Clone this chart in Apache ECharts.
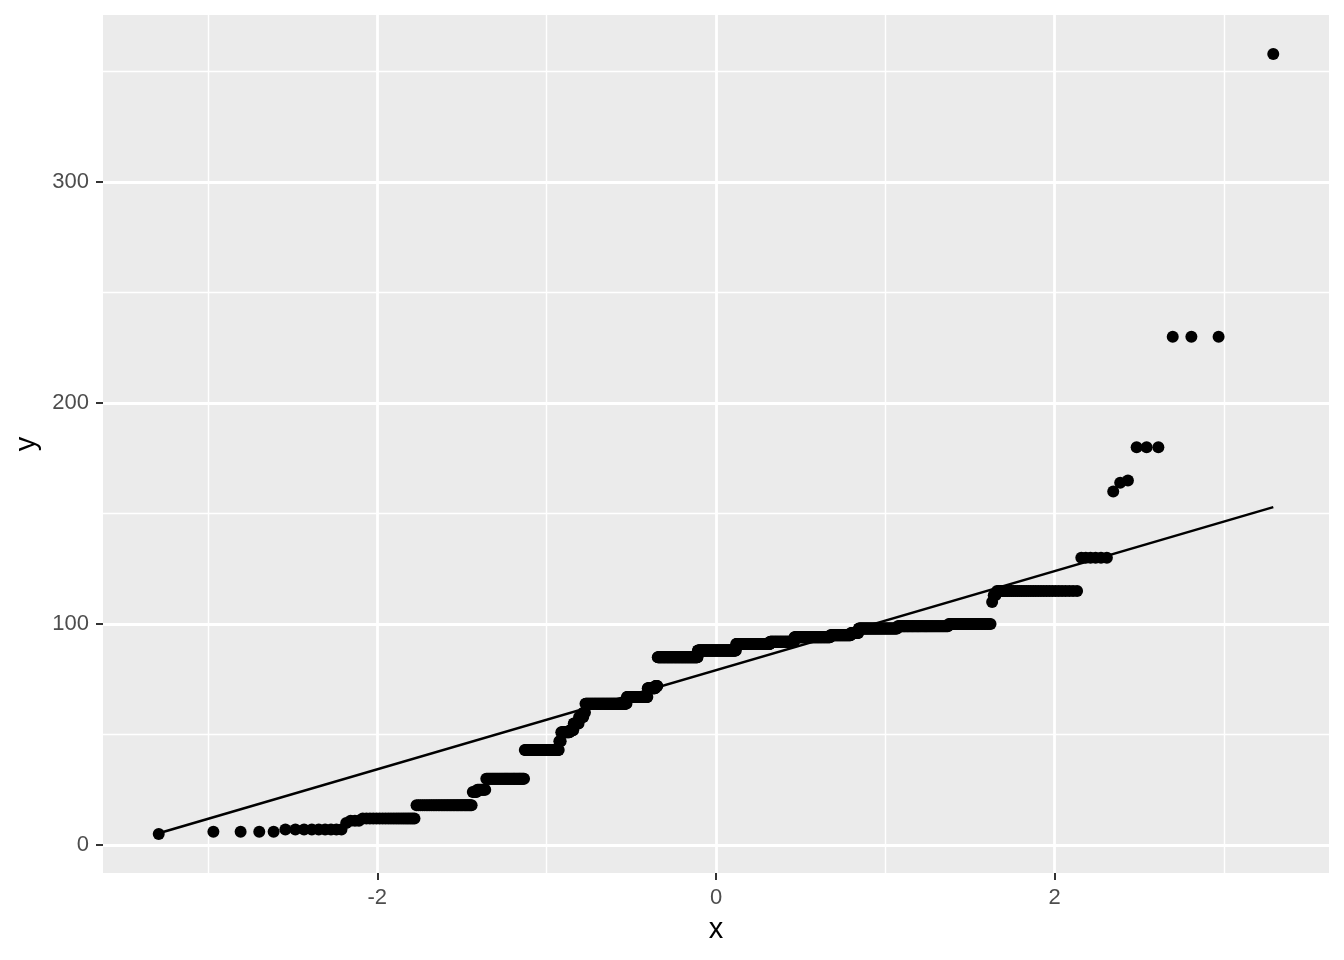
<!DOCTYPE html>
<html>
<head>
<meta charset="utf-8">
<script src="https://cdn.jsdelivr.net/npm/echarts@6/dist/echarts.min.js"></script>
<style>
html,body{margin:0;padding:0;background:#ffffff;}
#chart{width:1344px;height:960px;}
</style>
</head>
<body>
<div id="chart"></div>
<script>
// Sorted sample values (distinct levels) and how many observations share each level (n = 1000)
const sampleValues = [5, 6, 7, 10, 11, 12, 18, 24, 25, 30, 43, 47, 51, 52, 55, 58, 60, 64, 67, 71, 72, 85, 88, 91, 92, 94, 95, 96, 98, 99, 100, 110, 113, 115, 130, 160, 164, 165, 180, 230, 358];
const valueCounts  = [1, 4, 9, 1, 3, 20, 37, 4, 8, 42, 48, 3, 14, 6, 9, 8, 3, 79, 44, 17, 5, 92, 90, 78, 53, 72, 37, 13, 58, 57, 33, 1, 2, 33, 6, 1, 1, 1, 3, 3, 1];

// Axis ticks
const xTickValues = [-2, 0, 2];
const xMinorValues = [-3, -1, 1, 3];
const yTickValues = [0, 100, 200, 300];
const yMinorValues = [50, 150, 250, 350];
const xTitle = 'x';
const yTitle = 'y';

// Normal quantile function (Acklam)
function qnorm(p) {
  const a = [-3.969683028665376e+01, 2.209460984245205e+02, -2.759285104469687e+02, 1.383577518672690e+02, -3.066479806614716e+01, 2.506628277459239e+00];
  const b = [-5.447609879822406e+01, 1.615858368580409e+02, -1.556989798598866e+02, 6.680131188771972e+01, -1.328068155288572e+01];
  const c = [-7.784894002430293e-03, -3.223964580411365e-01, -2.400758277161838e+00, -2.549732539343734e+00, 4.374664141464968e+00, 2.938163982698783e+00];
  const d = [7.784695709041462e-03, 3.224671290700398e-01, 2.445134137142996e+00, 3.754408661907416e+00];
  const pl = 0.02425, ph = 1 - pl;
  let q, r;
  if (p < pl) {
    q = Math.sqrt(-2 * Math.log(p));
    return (((((c[0]*q+c[1])*q+c[2])*q+c[3])*q+c[4])*q+c[5]) / ((((d[0]*q+d[1])*q+d[2])*q+d[3])*q+1);
  } else if (p <= ph) {
    q = p - 0.5; r = q * q;
    return (((((a[0]*r+a[1])*r+a[2])*r+a[3])*r+a[4])*r+a[5])*q / (((((b[0]*r+b[1])*r+b[2])*r+b[3])*r+b[4])*r+1);
  } else {
    q = Math.sqrt(-2 * Math.log(1 - p));
    return -(((((c[0]*q+c[1])*q+c[2])*q+c[3])*q+c[4])*q+c[5]) / ((((d[0]*q+d[1])*q+d[2])*q+d[3])*q+1);
  }
}

// Expand runs into the sorted sample
const sample = [];
sampleValues.forEach((v, k) => { for (let j = 0; j < valueCounts[k]; j++) sample.push(v); });
const n = sample.length;
const points = sample.map((v, i) => [qnorm((i + 1 - 0.5) / n), v]);

// qq line through the quartiles (type 7 quantiles)
function quantile7(arr, p) {
  const h = (arr.length - 1) * p;
  const lo = Math.floor(h), hi = Math.ceil(h);
  return arr[lo] + (h - lo) * (arr[hi] - arr[lo]);
}
const q1 = quantile7(sample, 0.25), q3 = quantile7(sample, 0.75);
const slope = (q3 - q1) / (qnorm(0.75) - qnorm(0.25));
const intercept = q1 - slope * qnorm(0.25);
const xMinT = points[0][0], xMaxT = points[n - 1][0];
const linePts = [[xMinT, intercept + slope * xMinT], [xMaxT, intercept + slope * xMaxT]];

// ggplot-style 5% expansion
const xr = xMaxT - xMinT;
const yMinD = sample[0], yMaxD = sample[n - 1];
const yr = yMaxD - yMinD;
const xMin = xMinT - 0.05 * xr, xMax = xMaxT + 0.05 * xr;
const yMin = yMinD - 0.05 * yr, yMax = yMaxD + 0.05 * yr;

const FONT = '"Liberation Sans", Arial, Helvetica, sans-serif';
const majorStyle = { color: '#ffffff', width: 2.8, type: 'solid' };
const minorStyle = { color: '#ffffff', width: 1.4, type: 'solid' };
const gridLines = []
  .concat(xMinorValues.map(v => ({ xAxis: v, lineStyle: minorStyle })))
  .concat(yMinorValues.map(v => ({ yAxis: v, lineStyle: minorStyle })))
  .concat(xTickValues.map(v => ({ xAxis: v, lineStyle: majorStyle })))
  .concat(yTickValues.map(v => ({ yAxis: v, lineStyle: majorStyle })));

const chart = echarts.init(document.getElementById('chart'), null, { renderer: 'canvas' });
chart.setOption({
  animation: false,
  backgroundColor: '#ffffff',
  grid: {
    left: 103, right: 15, top: 15, bottom: 87,
    show: true, backgroundColor: '#EBEBEB', borderWidth: 0
  },
  xAxis: {
    type: 'value', min: xMin, max: xMax,
    name: xTitle, nameLocation: 'middle', nameGap: 42,
    nameTextStyle: { color: '#000000', fontSize: 29, fontFamily: FONT },
    axisLine: { show: true, onZero: false, lineStyle: { color: 'rgba(0,0,0,0)', width: 0 } },
    axisTick: { show: true, inside: false, customValues: xTickValues, length: 7, lineStyle: { color: '#333333', width: 2 } },
    axisLabel: { show: true, customValues: xTickValues, margin: 14, color: '#4D4D4D', fontSize: 22, fontFamily: FONT,
      formatter: v => String(v) },
    splitLine: { show: false }, minorSplitLine: { show: false }
  },
  yAxis: {
    type: 'value', min: yMin, max: yMax,
    name: yTitle, nameLocation: 'middle', nameGap: 60, nameRotate: 90,
    nameTextStyle: { color: '#000000', fontSize: 29, fontFamily: FONT },
    axisLine: { show: true, onZero: false, lineStyle: { color: 'rgba(0,0,0,0)', width: 0 } },
    axisTick: { show: true, inside: false, customValues: yTickValues, length: 7, lineStyle: { color: '#333333', width: 2 } },
    axisLabel: { show: true, customValues: yTickValues, margin: 14, color: '#4D4D4D', fontSize: 22, fontFamily: FONT,
      formatter: v => String(v) },
    splitLine: { show: false }, minorSplitLine: { show: false }
  },
  series: [
    {
      type: 'line', data: [], z: 1, silent: true,
      markLine: { z: 1, silent: true, symbol: ['none', 'none'], label: { show: false }, animation: false, data: gridLines }
    },
    {
      type: 'scatter', data: points, z: 3, symbol: 'circle', symbolSize: 12,
      itemStyle: { color: '#000000', opacity: 1 }, large: false, progressive: 0
    },
    {
      type: 'line', data: linePts, z: 4, symbol: 'none', silent: true,
      lineStyle: { color: '#000000', width: 2.5 }
    }
  ]
});
</script>
</body>
</html>
